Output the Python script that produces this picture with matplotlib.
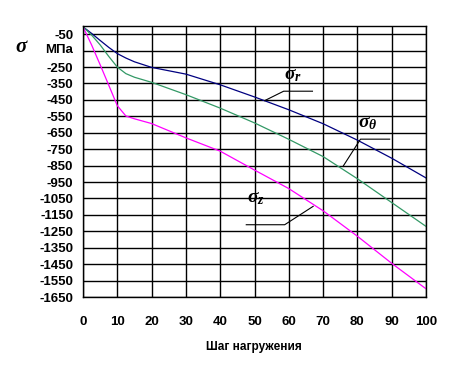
import matplotlib
matplotlib.use("Agg")
import matplotlib.pyplot as plt
import numpy as np

# load steps and stresses (MPa)
steps = [0, 2.5, 5, 7.5, 10, 12.5, 15, 20, 30, 40, 50, 60, 70, 80, 90, 100]
sigma_r = [-5, -45, -88, -130, -168, -195, -218, -252, -293, -358, -432, -510, -595, -695, -805, -925]
sigma_t = [-5, -55, -115, -185, -250, -290, -312, -343, -418, -500, -590, -690, -795, -930, -1075, -1220]
sigma_z = [-5, -115, -236, -360, -485, -548, -565, -594, -681, -762, -877, -990, -1125, -1280, -1445, -1600]

x_ticks = list(range(0, 101, 10))
y_ticks = list(range(-50, -1651, -100))
# the -150 slot carries the unit label instead of a number
y_labels = ['' if v == -150 else str(v) for v in y_ticks]

plt.rcParams['font.family'] = ['Liberation Sans', 'DejaVu Sans']
plt.rcParams['mathtext.fontset'] = 'custom'
plt.rcParams['mathtext.rm'] = 'Liberation Serif:bold'
plt.rcParams['mathtext.it'] = 'Liberation Serif:italic:bold'

fig = plt.figure(figsize=(4.54, 3.74), dpi=100)
ax = fig.add_axes([83 / 454, 1 - 297 / 374, 343 / 454, 271 / 374])

ax.plot(steps, sigma_r, color='#000080', lw=0.9)
ax.plot(steps, sigma_t, color='#339966', lw=0.9)
ax.plot(steps, sigma_z, color='#ff00ff', lw=0.9)

ax.set_xlim(0, 100)
ax.set_ylim(-1650, 0)
ax.set_xticks(x_ticks)
ax.set_yticks(y_ticks)
ax.set_xticklabels([str(v) for v in x_ticks], fontsize=9.5, fontweight='bold')
ax.set_yticklabels(y_labels, fontsize=9.5, fontweight='bold')
ax.tick_params(axis='both', length=0)
ax.tick_params(axis='x', pad=14)
ax.tick_params(axis='y', pad=7)
ax.grid(True, color='black', lw=1)
for s in ax.spines.values():
    s.set_color('black')
    s.set_linewidth(1)

# curve labels with leader lines
ax.text(61.2, -304, r'$\sigma_r$', fontsize=14, ha='center', va='center')
ax.plot([53.0, 58.5, 66.9], [-454, -397, -397], color='black', lw=0.8)
ax.text(83.0, -596, r'$\sigma_\theta$', fontsize=14, ha='center', va='center')
ax.plot([75.8, 80.9, 89.4], [-855, -689, -689], color='black', lw=0.8)
ax.text(50.4, -1052, r'$\sigma_z$', fontsize=14, ha='center', va='center')
ax.plot([47.6, 58.8, 67.1], [-1210, -1210, -1098], color='black', lw=0.8)

fig.text(22 / 454, 1 - 46 / 374, r'$\sigma$', fontsize=15, ha='center', va='center')
fig.text(73 / 454, 1 - 50 / 374, 'МПа', fontsize=9.5, fontweight='bold', ha='right', va='center')
fig.text(254 / 454, 1 - 347 / 374, 'Шаг нагружения', fontsize=8.5, fontweight='bold',
         ha='center', va='center')

fig.savefig('out.png', dpi=100)
